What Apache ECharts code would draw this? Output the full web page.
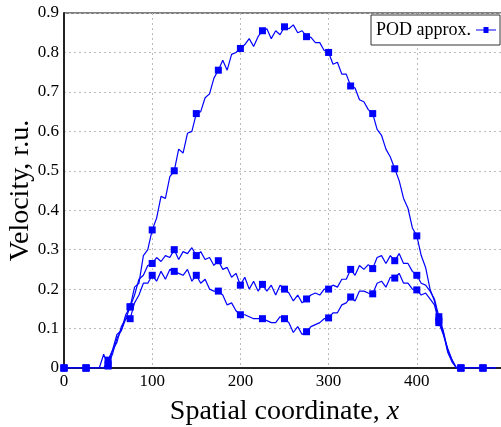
<!DOCTYPE html>
<html>
<head>
<meta charset="utf-8">
<script src="https://cdn.jsdelivr.net/npm/echarts@6/dist/echarts.min.js"></script>
<style>html,body{margin:0;padding:0;background:#fff}#c{width:501px;height:427px}</style>
</head>
<body>
<div id="c"></div>
<script>
// Spatial positions (step 5)
var xPos = [0,5,10,15,20,25,30,35,40,45,
50,55,60,65,70,75,80,85,90,95,
100,105,110,115,120,125,130,135,140,145,
150,155,160,165,170,175,180,185,190,195,
200,205,210,215,220,225,230,235,240,245,
250,255,260,265,270,275,280,285,290,295,
300,305,310,315,320,325,330,335,340,345,
350,355,360,365,370,375,380,385,390,395,
400,405,410,415,420,425,430,435,440,
445,450,455,460,465,470,475,480,485,490];

// Curve 1 (large hump)
var curveA = [0,0,0,0,0,0,0,0,0,0,
0.02,0.045,0.085,0.095,0.135,0.155,0.205,0.215,0.285,0.30,
0.35,0.38,0.435,0.43,0.485,0.50,0.555,0.545,0.595,0.60,
0.645,0.65,0.685,0.695,0.735,0.755,0.78,0.755,0.795,0.80,
0.81,0.82,0.835,0.815,0.84,0.855,0.86,0.835,0.855,0.845,
0.865,0.86,0.87,0.85,0.855,0.84,0.838,0.825,0.825,0.805,
0.80,0.77,0.775,0.745,0.745,0.715,0.71,0.68,0.675,0.655,
0.645,0.605,0.59,0.555,0.535,0.505,0.475,0.43,0.405,0.355,
0.335,0.285,0.255,0.20,0.17,0.12,0.09,0.04,0.015,
0,0,0,0,0,0,0,0,0,0];

// Curve 2 (upper double hump)
var curveB = [0,0,0,0,0,0,0,0,0,0.035,
0.005,0.045,0.065,0.105,0.125,0.155,0.185,0.225,0.235,0.26,
0.265,0.28,0.27,0.285,0.28,0.30,0.275,0.295,0.29,0.305,
0.285,0.295,0.275,0.28,0.26,0.272,0.25,0.255,0.23,0.24,
0.21,0.23,0.20,0.22,0.195,0.212,0.195,0.21,0.185,0.21,
0.20,0.19,0.17,0.185,0.165,0.175,0.185,0.19,0.185,0.20,
0.2,0.21,0.205,0.225,0.225,0.25,0.235,0.26,0.25,0.262,
0.252,0.28,0.285,0.265,0.285,0.272,0.29,0.265,0.265,0.245,
0.235,0.215,0.21,0.195,0.175,0.13,0.095,0.045,0.02,
0,0,0,0,0,0,0,0,0,0];

// Curve 3 (lower double hump)
var curveC = [0,0,0,0,0,0,0,0,0,0,
0.01,0.035,0.075,0.095,0.125,0.125,0.165,0.185,0.215,0.215,
0.235,0.22,0.245,0.225,0.25,0.245,0.24,0.235,0.25,0.22,
0.235,0.215,0.225,0.20,0.195,0.195,0.185,0.16,0.165,0.145,
0.135,0.135,0.13,0.125,0.125,0.125,0.12,0.115,0.115,0.13,
0.125,0.115,0.09,0.105,0.085,0.092,0.105,0.11,0.115,0.125,
0.127,0.14,0.14,0.16,0.165,0.18,0.17,0.195,0.195,0.19,
0.188,0.215,0.22,0.205,0.23,0.228,0.24,0.215,0.215,0.20,
0.198,0.185,0.19,0.175,0.16,0.115,0.085,0.05,0.02,
0,0,0,0,0,0,0,0,0,0];

var xTicks = [0,100,200,300,400];
var yTicks = [0,0.1,0.2,0.3,0.4,0.5,0.6,0.7,0.8,0.9];

function pairs(ys){ return xPos.map(function(x,i){ return [x, ys[i]]; }); }
var FONT = 'Liberation Serif';
function mk(ys){
  return {
    name: 'POD approx.', type: 'line', data: pairs(ys),
    symbol: function(v, p){ return (p.dataIndex % 5 === 0) ? 'rect' : 'none'; },
    symbolSize: 7, showSymbol: true, showAllSymbol: true,
    lineStyle: {color: '#0000ff', width: 1.2}, itemStyle: {color: '#0000ff'},
    animation: false, z: 3
  };
}

var chart = echarts.init(document.getElementById('c'));
chart.setOption({
  backgroundColor: '#fff',
  animation: false,
  grid: {left: 64, top: 13, bottom: 59, right: -4, show: true, borderColor: '#000', borderWidth: 1,
         containLabel: false, outerBoundsMode: 'none'},
  legend: {
    data: [{name: 'POD approx.', icon: 'path://M0,4.4 L20,4.4 L20,5.6 L0,5.6 Z M7.5,2 L12.5,2 L12.5,8 L7.5,8 Z'}],
    right: 1, top: 15, orient: 'horizontal', align: 'right',
    backgroundColor: '#fff', borderColor: '#333', borderWidth: 1, padding: [6, 4, 6, 5],
    itemWidth: 20, itemHeight: 10,
    itemStyle: {color: '#0000ff'},
    textStyle: {fontFamily: FONT, fontSize: 18, color: '#000'}
  },
  xAxis: {
    type: 'value', min: 0, max: 500, interval: 100,
    name: 'Spatial coordinate, {i|x}', nameLocation: 'middle', nameGap: 30,
    nameTextStyle: {fontFamily: FONT, fontSize: 28, color: '#000',
      rich: {i: {fontFamily: FONT, fontSize: 28, fontStyle: 'italic', color: '#000'}}},
    axisLine: {show: true, onZero: false, lineStyle: {color: '#222', width: 2}},
    axisTick: {show: false},
    axisLabel: {fontFamily: FONT, fontSize: 17, color: '#000', margin: 5, showMaxLabel: false,
      formatter: function(v){ return xTicks.indexOf(v) >= 0 ? String(v) : ''; }},
    splitLine: {show: true, lineStyle: {color: '#bbb', type: [2, 3], width: 1}}
  },
  yAxis: {
    type: 'value', min: 0, max: 0.9, interval: 0.1,
    name: 'Velocity, r.u.', nameLocation: 'middle', nameGap: 29, nameMoveOverlap: false,
    nameTextStyle: {fontFamily: FONT, fontSize: 28, color: '#000'},
    axisLine: {show: true, lineStyle: {color: '#222', width: 2}},
    axisTick: {show: false},
    axisLabel: {fontFamily: FONT, fontSize: 17, color: '#000', margin: 5,
      formatter: function(v){
        var r = Math.round(v * 10) / 10;
        return yTicks.indexOf(r) >= 0 ? (r === 0 ? '0' : r.toFixed(1)) : '';
      }},
    splitLine: {show: true, lineStyle: {color: '#bbb', type: [2, 3], width: 1}}
  },
  series: [mk(curveA), mk(curveB), mk(curveC)]
});
</script>
</body>
</html>
